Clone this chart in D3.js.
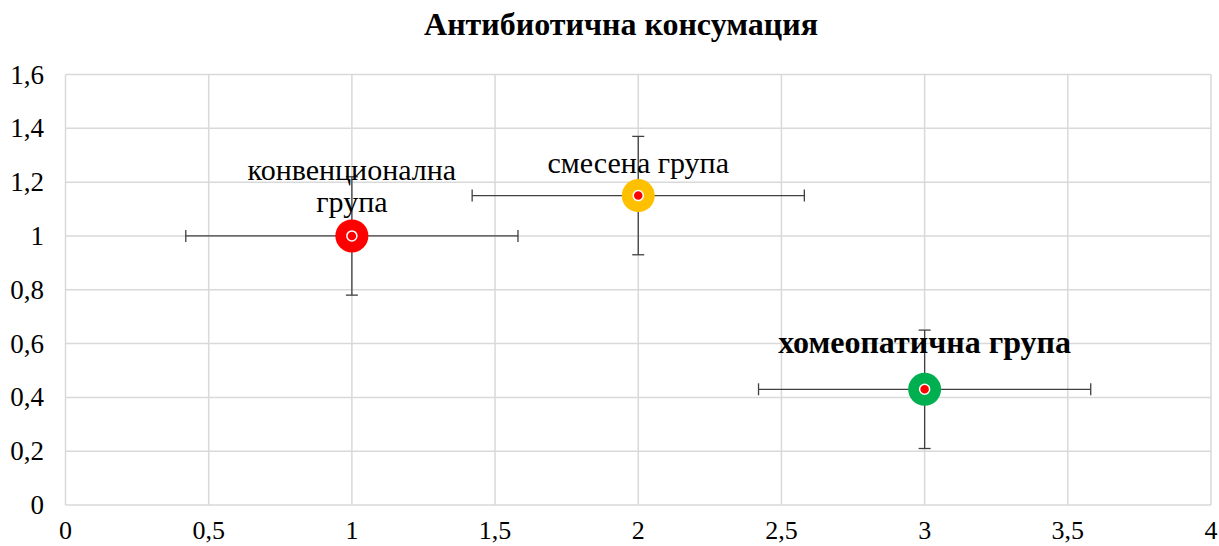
<!DOCTYPE html>
<html><head><meta charset="utf-8">
<script src="https://cdn.jsdelivr.net/npm/d3@7"></script>
<style>body{margin:0;background:#fff}svg{display:block}
text{font-family:"Liberation Serif","Times New Roman",Times,serif}</style>
</head><body>
<script>
const title = "Антибиотична консумация";
const groupNames = [["конвенционална","група"],["смесена група"],["хомеопатична група"]];
const xValues = [1, 2, 3];
const yValues = [1, 1.15, 0.43];
const xErr = [0.58, 0.58, 0.58];
const yErr = [0.22, 0.22, 0.22];
const markerColors = ["#ff0000", "#ffc000", "#00b050"];
const labelBold = [false, false, true];
const xTicks = [0, 0.5, 1, 1.5, 2, 2.5, 3, 3.5, 4];
const yTicks = [0, 0.2, 0.4, 0.6, 0.8, 1, 1.2, 1.4, 1.6];

const W = 1219, H = 546;
const svg = d3.select("body").append("svg").attr("width", W).attr("height", H);
const x = d3.scaleLinear().domain([0, 4]).range([65.5, 1211]);
const y = d3.scaleLinear().domain([0, 1.6]).range([505, 74.5]);
const fmt = v => String(v).replace(".", ",");

// grid
svg.append("g").selectAll("line").data(yTicks).join("line")
  .attr("x1", x(0)).attr("x2", x(4)).attr("y1", d => y(d)).attr("y2", d => y(d))
  .attr("stroke", "#d9d9d9").attr("stroke-width", 1.5);
svg.append("g").selectAll("line").data(xTicks).join("line")
  .attr("y1", y(0)).attr("y2", y(1.6)).attr("x1", d => x(d)).attr("x2", d => x(d))
  .attr("stroke", "#d9d9d9").attr("stroke-width", 1.5);

// tick labels
svg.append("g").selectAll("text").data(yTicks).join("text")
  .attr("x", 44).attr("y", d => y(d) + 9)
  .attr("text-anchor", "end").attr("font-size", 27)
  .text(fmt);
svg.append("g").selectAll("text").data(xTicks).join("text")
  .attr("x", d => x(d)).attr("y", 539)
  .attr("text-anchor", "middle").attr("font-size", 26)
  .text(fmt);

// title
svg.append("text").attr("x", 621).attr("y", 35).attr("text-anchor", "middle")
  .attr("font-size", 32).attr("font-weight", "bold").text(title);

const data = xValues.map((v, i) => ({x: v, y: yValues[i], ex: xErr[i], ey: yErr[i], c: markerColors[i], name: groupNames[i], bold: labelBold[i]}));

// error bars
const eb = svg.append("g").attr("stroke", "#404040").attr("stroke-width", 1.3);
data.forEach(d => {
  eb.append("line").attr("x1", x(d.x - d.ex)).attr("x2", x(d.x + d.ex)).attr("y1", y(d.y)).attr("y2", y(d.y));
  eb.append("line").attr("x1", x(d.x - d.ex)).attr("x2", x(d.x - d.ex)).attr("y1", y(d.y) - 6).attr("y2", y(d.y) + 6);
  eb.append("line").attr("x1", x(d.x + d.ex)).attr("x2", x(d.x + d.ex)).attr("y1", y(d.y) - 6).attr("y2", y(d.y) + 6);
  eb.append("line").attr("x1", x(d.x)).attr("x2", x(d.x)).attr("y1", y(d.y - d.ey)).attr("y2", y(d.y + d.ey));
  eb.append("line").attr("x1", x(d.x) - 6).attr("x2", x(d.x) + 6).attr("y1", y(d.y - d.ey)).attr("y2", y(d.y - d.ey));
  eb.append("line").attr("x1", x(d.x) - 6).attr("x2", x(d.x) + 6).attr("y1", y(d.y + d.ey)).attr("y2", y(d.y + d.ey));
});

// labels
data.forEach((d, i) => {
  const t = svg.append("text").attr("text-anchor", "middle")
    .attr("font-size", d.bold ? 32 : 30).attr("font-weight", d.bold ? "bold" : "normal")
    .attr("fill", "#000");
  if (d.name.length === 2) {
    t.append("tspan").attr("x", x(d.x)).attr("y", y(d.y) - 56).text(d.name[0]);
    t.append("tspan").attr("x", x(d.x)).attr("y", y(d.y) - 24).text(d.name[1]);
  } else {
    t.attr("x", x(d.x)).attr("y", y(d.y) - (d.bold ? 36 : 23)).text(d.name[0]);
  }
});

// markers
svg.append("g").selectAll("circle").data(data).join("circle")
  .attr("cx", d => x(d.x)).attr("cy", d => y(d.y)).attr("r", 16.5).attr("fill", d => d.c);
svg.append("g").selectAll("circle").data(data).join("circle")
  .attr("cx", d => x(d.x)).attr("cy", d => y(d.y)).attr("r", 5).attr("fill", "#ff0000")
  .attr("stroke", "#fff").attr("stroke-width", 1.5);
</script>
</body></html>
